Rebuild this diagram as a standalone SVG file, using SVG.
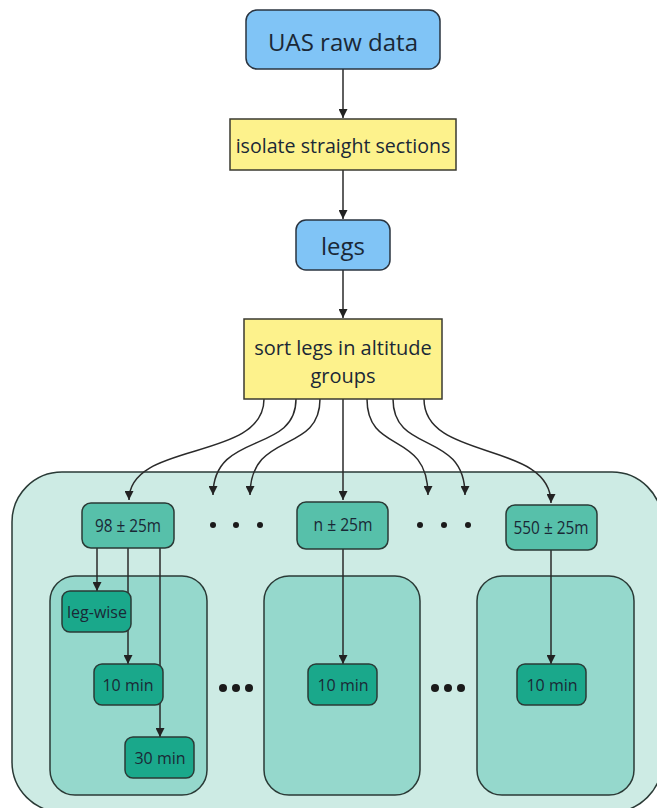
<svg xmlns="http://www.w3.org/2000/svg" width="657" height="808" viewBox="0 0 657 808">
<defs>
<marker id="ah" viewBox="0 0 10 10" refX="10" refY="5" markerWidth="9" markerHeight="9" markerUnits="userSpaceOnUse" orient="auto">
<path d="M0,0 L10,5 L0,10 z" fill="#222"/>
</marker>
<style>
.t{font-family:"Open Sans","Noto Sans",sans-serif;fill:#1a2836;text-anchor:middle;dominant-baseline:central}
.blue{fill:#80c4f6;stroke:#2a3440;stroke-width:1.5}
.yel{fill:#fdf28c;stroke:#3a3a30;stroke-width:1.5}
.outer{fill:#cdebe4;stroke:#2a3a36;stroke-width:1.5}
.inner{fill:#95d8cc;stroke:#2a3a36;stroke-width:1.5}
.alt{fill:#57c0aa;stroke:#2a3a36;stroke-width:1.5}
.sm{fill:#1aa88b;stroke:#2a3a36;stroke-width:1.5}
.c{fill:none;stroke:#2a2a2a;stroke-width:1.5;marker-end:url(#ah)}
.dot{fill:#1a1a1a}
</style>
</defs>
<g id="containers">
<rect class="outer" x="12" y="472" width="650" height="340" rx="50"/>
<rect class="inner" x="50" y="576" width="157" height="219" rx="25"/>
<rect class="inner" x="264" y="576" width="156" height="219" rx="25"/>
<rect class="inner" x="477" y="576" width="157" height="219" rx="25"/>
</g>
<g id="connectors">
<path class="c" d="M343,69 V118"/>
<path class="c" d="M343,170 V219"/>
<path class="c" d="M343,270 V318"/>
<path class="c" d="M264,399 C264,462 129,440 129,500"/>
<path class="c" d="M296,399 C296,455 213,430 213,495"/>
<path class="c" d="M320,399 C320,455 250,430 250,495"/>
<path class="c" d="M343,399 V500"/>
<path class="c" d="M367,399 C367,455 428,430 428,495"/>
<path class="c" d="M393,399 C393,455 465,430 465,495"/>
<path class="c" d="M424,399 C424,462 551,440 551,503"/>
<path class="c" d="M97,548 V591"/>
<path class="c" d="M128,548 V664"/>
<path class="c" d="M160,548 V737"/>
<path class="c" d="M343,549 V664"/>
<path class="c" d="M551,550 V664"/>
</g>
<g id="uas"><rect class="blue" x="246" y="10" width="194" height="59" rx="11"/><text class="t" x="343" y="41" font-size="24">UAS raw data</text></g>
<g id="isolate"><rect class="yel" x="230" y="119" width="226" height="51"/><text class="t" x="343" y="145" font-size="19.6">isolate straight sections</text></g>
<g id="legs"><rect class="blue" x="296" y="220" width="94" height="50" rx="10"/><text class="t" x="343" y="245" font-size="24">legs</text></g>
<g id="sort"><rect class="yel" x="244" y="319" width="198" height="80"/><text class="t" x="343" y="347" font-size="20">sort legs in altitude</text><text class="t" x="343" y="375" font-size="20">groups</text></g>
<g id="alt98"><rect class="alt" x="82" y="503" width="92" height="45" rx="9"/><text class="t" x="128" y="525" font-size="18" textLength="66" lengthAdjust="spacingAndGlyphs">98 ± 25m</text></g>
<g id="altn"><rect class="alt" x="297" y="502" width="91" height="47" rx="9"/><text class="t" x="343" y="524" font-size="18" textLength="59" lengthAdjust="spacingAndGlyphs">n ± 25m</text></g>
<g id="alt550"><rect class="alt" x="506" y="505" width="91" height="45" rx="9"/><text class="t" x="551" y="527" font-size="18" textLength="75" lengthAdjust="spacingAndGlyphs">550 ± 25m</text></g>
<g id="dots-top">
<circle class="dot" cx="213" cy="525" r="3"/><circle class="dot" cx="236" cy="525" r="3"/><circle class="dot" cx="260" cy="525" r="3"/>
<circle class="dot" cx="420" cy="525" r="3"/><circle class="dot" cx="444" cy="525" r="3"/><circle class="dot" cx="468" cy="525" r="3"/>
</g>
<g id="legwise"><rect class="sm" x="62" y="591" width="69" height="41" rx="8"/><text class="t" x="97" y="612" font-size="16">leg-wise</text></g>
<g id="min10a"><rect class="sm" x="94" y="664" width="69" height="41" rx="8"/><text class="t" x="128" y="685" font-size="16">10 min</text></g>
<g id="min30"><rect class="sm" x="125" y="737" width="69" height="41" rx="8"/><text class="t" x="160" y="758" font-size="16">30 min</text></g>
<g id="min10b"><rect class="sm" x="308" y="664" width="69" height="41" rx="8"/><text class="t" x="343" y="685" font-size="16">10 min</text></g>
<g id="min10c"><rect class="sm" x="517" y="664" width="69" height="41" rx="8"/><text class="t" x="552" y="685" font-size="16">10 min</text></g>
<g id="dots-bottom">
<circle class="dot" cx="223" cy="688" r="4"/><circle class="dot" cx="236" cy="688" r="4"/><circle class="dot" cx="249" cy="688" r="4"/>
<circle class="dot" cx="435" cy="688" r="4"/><circle class="dot" cx="448" cy="688" r="4"/><circle class="dot" cx="461" cy="688" r="4"/>
</g>
</svg>
